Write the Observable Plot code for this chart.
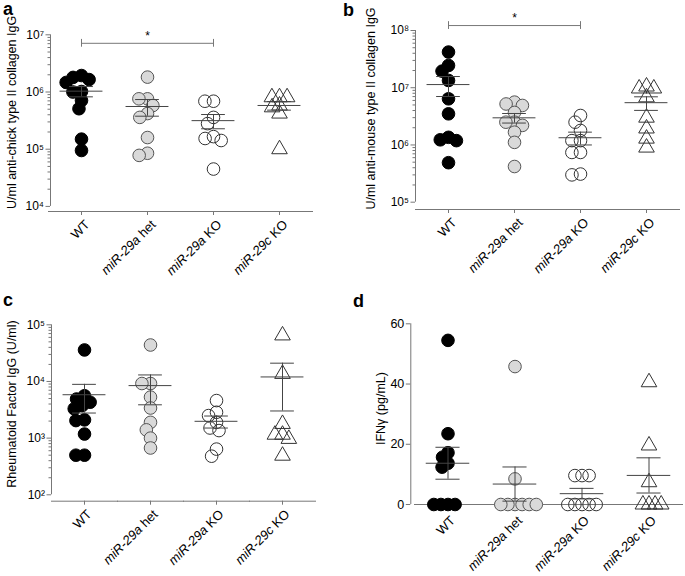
<!DOCTYPE html>
<html><head><meta charset="utf-8">
<script src="https://cdn.jsdelivr.net/npm/d3@7"></script>
<script src="https://cdn.jsdelivr.net/npm/@observablehq/plot@0.6"></script>
<style>
body{margin:0;background:#fff;font-family:"Liberation Sans",Arial,Helvetica,sans-serif;}
#root{position:relative;width:685px;height:576px;overflow:hidden;background:#fff;}
.panel{position:absolute;}
.letter{position:absolute;font-weight:bold;font-size:18px;line-height:1;color:#000;}
</style></head><body><div id="root"></div>
<script>
const groups = ["WT", "miR-29a het", "miR-29a KO", "miR-29c KO"];

// a: U/ml anti-chick type II collagen IgG
const chickWT  = [1.94e6, 1.8e6, 1.65e6, 1.47e6, 1.02e6, 1.0e6, 7.1e5, 5.1e5, 1.5e5, 9.5e4];
const chickHet = [1.82e6, 7.6e5, 7.6e5, 5.8e5, 4.2e5, 3.6e5, 1.6e5, 8.5e4, 7.8e4];
const chickKO  = [6.9e5, 6.9e5, 3.6e5, 2.8e5, 1.66e5, 1.54e5, 1.42e5, 4.5e4];
const chick29c = [8.1e5, 8.1e5, 8.1e5, 5.8e5, 5.4e5, 4.2e5, 1.0e5];

// b: U/ml anti-mouse type II collagen IgG
const mouseWT  = [4.2e7, 2.45e7, 1.95e7, 1.34e7, 6.4e6, 3.5e6, 1.36e6, 1.23e6, 1.19e6, 4.9e5];
const mouseHet = [5.6e6, 5.2e6, 4.9e6, 3.7e6, 2.5e6, 2.5e6, 2.2e6, 1.67e6, 1.11e6, 4.2e5];
const mouseKO  = [3.27e6, 2.5e6, 1.79e6, 1.19e6, 1.19e6, 7.4e5, 7.4e5, 3.1e5, 3.0e5];
const mouse29c = [1.05e7, 9.7e6, 9.7e6, 6.8e6, 3.0e6, 1.94e6, 1.29e6, 9.0e5];

// c: Rheumatoid Factor IgG (U/ml)
const rfWT  = [3.6e4, 5.6e3, 4.9e3, 4.3e3, 3.75e3, 3.3e3, 2.1e3, 2.04e3, 1.18e3, 5.0e2, 5.0e2];
const rfHet = [4.4e4, 9.2e3, 9.2e3, 5.3e3, 3.4e3, 1.9e3, 1.4e3, 1.0e3, 6.7e2];
const rfKO  = [4.6e3, 2.86e3, 2.5e3, 1.9e3, 1.51e3, 1.36e3, 6.4e2, 4.8e2];
const rf29c = [6.5e4, 1.36e4, 1.78e3, 1.15e3, 1.15e3, 9.7e2, 4.9e2];

// d: IFNγ (pg/mL)
const ifnWT  = [54.5, 23.5, 17.2, 15.7, 13.7, 12.4, 0, 0, 0, 0];
const ifnHet = [45.8, 8.5, 0, 0, 0, 0, 0, 0];
const ifnKO  = [9.6, 9.6, 9.6, 0, 0, 0, 0, 0];
const ifn29c = [40.6, 19.6, 7.4, 0, 0, 0, 0];

// significance brackets
const sigA = {from: "WT", to: "miR-29a KO", label: "*", y: 7.1e6};
const sigB = {from: "WT", to: "miR-29a KO", label: "*", y: 1.22e8};

// tick values
const ticksA = [1e4, 1e5, 1e6, 1e7];
const ticksB = [1e5, 1e6, 1e7, 1e8];
const ticksC = [1e2, 1e3, 1e4, 1e5];
const ticksD = [0, 20, 40, 60];

const FONT = '"Liberation Sans", Arial, Helvetica, sans-serif';
const AXIS = "#777";
const LINE = "#444";
const styles = {
  "WT":          {fill: "#000", stroke: "#000", symbol: "circle", r: 6.3},
  "miR-29a het": {fill: "#d9d9d9", stroke: "#555", symbol: "circle", r: 6.3},
  "miR-29a KO":  {fill: "none", stroke: "#333", symbol: "circle", r: 6.3},
  "miR-29c KO":  {fill: "none", stroke: "#333", symbol: "triangle", r: 5.8}
};

const supMap = {"0":"⁰","1":"¹","2":"²","3":"³","4":"⁴","5":"⁵","6":"⁶","7":"⁷","8":"⁸","9":"⁹"};
const pow10 = d => "10" + String(Math.round(Math.log10(d))).split("").map(c => supMap[c]).join("");
const minorsOf = majors => majors.slice(0, -1).flatMap(m => d3.range(2, 10).map(k => k * m));

function tidy(arrs) { return groups.flatMap((g, i) => arrs[i].map(v => ({g, v}))); }
function summarize(arrs) {
  return groups.map((g, i) => {
    const a = arrs[i], m = d3.mean(a), s = d3.deviation(a) / Math.sqrt(a.length);
    return {g, mean: m, lo: m - s, hi: m + s};
  });
}

function makePanel(o) {
  const rows = tidy(o.data);
  const summ = summarize(o.data);
  const first = () => groups[0];
  const marks = [];
  marks.push(Plot.frame({anchor: "bottom", stroke: AXIS}));
  marks.push(Plot.ruleX([0], {fx: first, x: -1, y1: o.majors[0], y2: o.majors[o.majors.length - 1], dx: o.axisDx, stroke: AXIS}));
  marks.push(Plot.axisY({ticks: o.majors, tickFormat: o.fmt, tickSize: 4.5, tickPadding: 2, fontSize: o.yfs, dx: o.axisDx, stroke: AXIS, fill: "#000", label: null}));
  if (o.log) marks.push(Plot.axisY({ticks: minorsOf(o.majors), tickFormat: () => "", tickSize: 2.5, dx: o.axisDx, stroke: AXIS, label: null}));
  marks.push(Plot.axisFx({anchor: "bottom", tickRotate: -45, tickSize: o.xTickSize, tickPadding: o.xTickPad, fontSize: 13, label: null, stroke: AXIS, fill: "#000"}));
  marks.push(Plot.text([o.label], {fx: first, frameAnchor: "left", textAnchor: "middle", rotate: -90, dx: o.labelDx, dy: o.labelDy, fontSize: 12.5, fill: "#000"}));
  for (const g of groups) {
    const s = styles[g];
    marks.push(Plot.dot(rows.filter(d => d.g === g), Plot.dodgeX({anchor: "middle", padding: o.pad},
      {fx: "g", y: "v", r: s.r, symbol: s.symbol, fill: s.fill, stroke: s.stroke, strokeWidth: 1})));
  }
  marks.push(Plot.ruleY(summ, {fx: "g", y: "mean", x1: -0.65, x2: 0.65, stroke: LINE}));
  marks.push(Plot.ruleY(summ, {fx: "g", y: "hi", x1: -0.36, x2: 0.36, stroke: LINE}));
  marks.push(Plot.ruleY(summ, {fx: "g", y: "lo", x1: -0.36, x2: 0.36, stroke: LINE}));
  marks.push(Plot.ruleX(summ, {fx: "g", x: 0, y1: "lo", y2: "hi", stroke: LINE}));
  if (o.bracket) {
    const b = o.bracket;
    const span = 2 * (groups.indexOf(b.to) - groups.indexOf(b.from));
    marks.push(Plot.ruleY([b], {fx: "from", y: "y", x1: 0, x2: span, stroke: AXIS}));
    marks.push(Plot.ruleX([0, span], {fx: () => b.from, x: d => d, y1: b.y / 1.17, y2: b.y * 1.17, stroke: AXIS}));
    marks.push(Plot.text([b], {fx: "from", x: span / 2, y: "y", text: "label", dy: -7, fontSize: 12, fill: "#000"}));
  }
  const svg = Plot.plot({
    width: o.width, height: o.height,
    marginLeft: o.m[0], marginRight: o.m[1], marginTop: o.m[2], marginBottom: o.m[3],
    style: {fontFamily: FONT, fontSize: "11px", color: "#000", background: "transparent"},
    fx: {domain: groups, padding: 0, label: null},
    x: {domain: [-1, 1], axis: null},
    y: {type: o.log ? "log" : "linear", domain: o.domain},
    marks
  });
  const ns = "http://www.w3.org/2000/svg";
  svg.querySelectorAll("text").forEach(t => {
    if (!groups.includes(t.textContent)) return;
    const tr = t.getAttribute("transform") || "";
    t.setAttribute("transform", `translate(${o.xlShift[0]},${o.xlShift[1]}) ` + tr);
    const m = /^(miR-29[ac])(\s.*)$/.exec(t.textContent);
    if (!m) return;
    t.textContent = "";
    const a = document.createElementNS(ns, "tspan"); a.setAttribute("font-style", "italic"); a.textContent = m[1];
    const b = document.createElementNS(ns, "tspan"); b.textContent = m[2];
    t.appendChild(a); t.appendChild(b);
  });
  const div = document.createElement("div");
  div.className = "panel";
  div.style.left = o.left + "px"; div.style.top = o.top + "px";
  div.appendChild(svg);
  document.getElementById("root").appendChild(div);
  const L = document.createElement("div");
  L.className = "letter"; L.textContent = o.letter;
  L.style.left = o.letterPos[0] + "px"; L.style.top = o.letterPos[1] + "px";
  document.getElementById("root").appendChild(L);
}

makePanel({letter: "a", letterPos: [3, 0], left: 0, top: 0, width: 340, height: 290, m: [46.7, 26.7, 34.3, 79],
  log: true, domain: [8150, 1e7], majors: ticksA, fmt: pow10, axisDx: 2, yfs: 12,
  data: [chickWT, chickHet, chickKO, chick29c], label: "U/ml anti-chick type II collagen IgG",
  labelDx: -36.7, labelDy: -10.7, xTickSize: 4, xTickPad: 3, xlShift: [6, 4], pad: -4, bracket: sigA});
makePanel({letter: "b", letterPos: [343, 1], left: 340, top: 0, width: 345, height: 290, m: [73.3, 5, 30, 81],
  log: true, domain: [74500, 1e8], majors: ticksB, fmt: pow10, axisDx: 0, yfs: 12,
  data: [mouseWT, mouseHet, mouseKO, mouse29c], label: "U/ml anti-mouse type II collagen IgG",
  labelDx: -45, labelDy: -11.5, xTickSize: 4, xTickPad: 3, xlShift: [6, 4], pad: -4, bracket: sigB});
makePanel({letter: "c", letterPos: [3, 291], left: 0, top: 290, width: 340, height: 286, m: [50, 23.3, 34.3, 75.3],
  log: true, domain: [77.1, 1e5], majors: ticksC, fmt: pow10, axisDx: 0, yfs: 12,
  data: [rfWT, rfHet, rfKO, rf29c], label: "Rheumatoid Factor IgG (U/ml)",
  labelDx: -40, labelDy: -9, xTickSize: 4, xTickPad: 3, xlShift: [5, 4], pad: -4});
makePanel({letter: "d", letterPos: [353, 291.5], left: 340, top: 290, width: 345, height: 286, m: [72, 2, 33.3, 72],
  log: false, domain: [0, 60], majors: ticksD, fmt: d => String(d), axisDx: -3.7, yfs: 12.5,
  data: [ifnWT, ifnHet, ifnKO, ifn29c], label: "IFNγ (pg/mL)",
  labelDx: -34, labelDy: -5.6, xTickSize: 0, xTickPad: 10, xlShift: [5, 4], pad: -5.5});
</script>
</body></html>
